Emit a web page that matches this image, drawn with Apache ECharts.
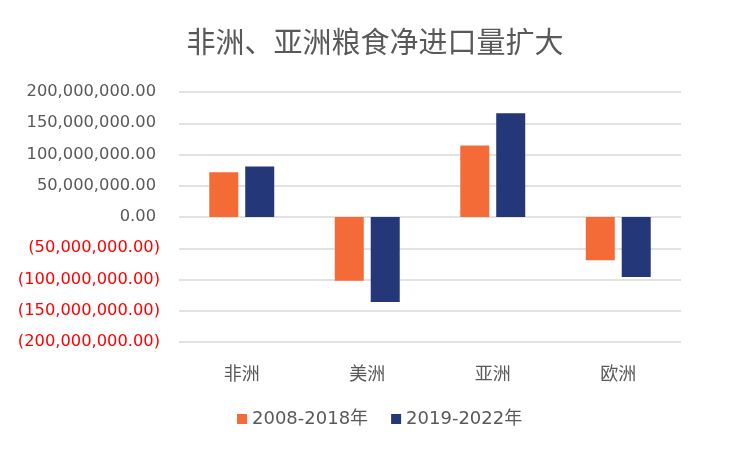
<!DOCTYPE html>
<html><head><meta charset="utf-8">
<script src="https://cdn.jsdelivr.net/npm/echarts@6/dist/echarts.min.js"></script>
<style>html,body{margin:0;padding:0;background:#fff}#c{width:750px;height:450px}</style>
</head><body><div id="c"></div>
<script>
const categories = ['非洲', '美洲', '亚洲', '欧洲'];
const seriesNames = ['2008-2018年', '2019-2022年'];
const values2008_2018 = [71500000, -102000000, 114500000, -69000000];
const values2019_2022 = [81000000, -136000000, 166000000, -96000000];
const titleText = '非洲、亚洲粮食净进口量扩大';

function fmt(v) {
  const a = Math.abs(v);
  const s = a.toLocaleString('en-US', {minimumFractionDigits: 2, maximumFractionDigits: 2});
  return v < 0 ? '{n|(' + s + ')}' : '{p|' + s + '}';
}
const FONT = '"Noto Sans CJK SC", "Noto Sans", sans-serif';
const NUMFONT = '"DejaVu Sans", "Noto Sans CJK SC", sans-serif';
const chart = echarts.init(document.getElementById('c'));
chart.setOption({
  animation: false,
  textStyle: {fontFamily: FONT},
  title: {text: titleText, left: 'center', top: 22,
    textStyle: {fontSize: 29, fontWeight: 'normal', color: '#595959', fontFamily: FONT}},
  legend: {bottom: 17, left: 232, itemWidth: 10, itemHeight: 10, itemGap: 23,
    icon: 'rect',
    textStyle: {fontSize: 18, color: '#595959', fontFamily: NUMFONT}},
  grid: {left: 179, right: 69, top: 92, bottom: 108, containLabel: false},
  xAxis: {type: 'category', data: categories,
    axisLine: {show: false}, axisTick: {show: false},
    axisLabel: {fontSize: 18, color: '#595959', margin: 22}},
  yAxis: {type: 'value', min: -200000000, max: 200000000, interval: 50000000,
    axisLine: {show: false}, axisTick: {show: false},
    splitLine: {lineStyle: {color: '#d9d9d9', width: 1.5}},
    axisLabel: {margin: 19, formatter: fmt,
      rich: {p: {fontSize: 16.3, color: '#595959', padding: [0, 4, 0, 0], fontFamily: NUMFONT},
             n: {fontSize: 16.3, color: '#ff0000', fontFamily: NUMFONT}}}},
  series: [
    {name: seriesNames[0], type: 'bar', data: values2008_2018, barWidth: 29, barGap: '24%',
      itemStyle: {color: '#f46b38'}},
    {name: seriesNames[1], type: 'bar', data: values2019_2022, barWidth: 29,
      itemStyle: {color: '#233779'}}
  ]
});
</script></body></html>
